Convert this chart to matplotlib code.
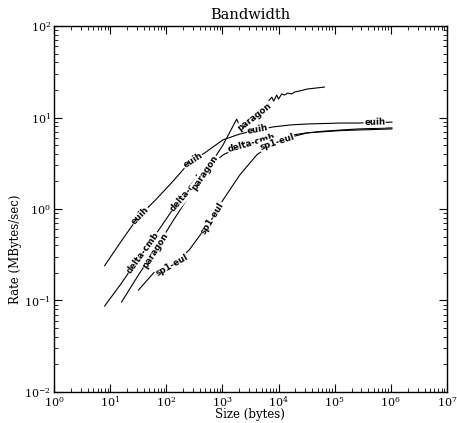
import numpy as np
import matplotlib
matplotlib.use('Agg')
import matplotlib.pyplot as plt
from matplotlib.ticker import LogLocator, NullFormatter

plt.rcParams['font.family'] = 'DejaVu Serif'
plt.rcParams['mathtext.fontset'] = 'dejavuserif'

# message size (bytes) vs rate (MBytes/sec)
euih_x = [8, 16, 32, 64, 128, 256, 512, 1024, 2048, 4096, 8192, 16384,
          32768, 65536, 131072, 262144, 524288, 1048576]
euih_y = [0.24, 0.45, 0.82, 1.25, 1.97, 3.2, 4.2, 5.7, 6.6, 7.3, 7.9, 8.3,
          8.5, 8.6, 8.7, 8.7, 8.8, 8.9]

delta_x = [8, 16, 32, 64, 128, 256, 512, 1024, 2048, 4096, 8192, 16384,
           32768, 65536, 131072, 262144, 524288, 1048576]
delta_y = [0.087, 0.155, 0.29, 0.52, 0.97, 1.6, 2.67, 3.9, 4.8, 5.4, 6.0, 6.4,
           6.8, 7.0, 7.2, 7.3, 7.4, 7.5]

paragon_x = [16, 32, 64, 128, 256, 512, 1024, 1800, 2100, 4096, 6400, 7600,
             8200, 9300, 10000, 11400, 12900, 14600, 17200, 19400, 23800,
             32768, 65536]
paragon_y = [0.096, 0.19, 0.36, 0.72, 1.39, 2.6, 5.0, 9.6, 7.7, 10.6, 14.8,
             16.7, 15.1, 17.6, 15.9, 18.1, 17.6, 18.5, 18.1, 19.0, 19.5,
             20.5, 21.5]

sp1_x = [32, 64, 128, 256, 512, 1024, 2048, 4096, 8192, 16384, 32768,
         65536, 131072, 262144, 524288, 1048576]
sp1_y = [0.13, 0.21, 0.244, 0.356, 0.635, 1.25, 2.36, 3.9, 5.3, 6.1, 6.8,
         7.1, 7.3, 7.5, 7.6, 7.7]

curves = [
    ('euih', euih_x, euih_y, [34, 297, 4270, 515000]),
    ('delta-cmb', delta_x, delta_y, [38, 242, 3340]),
    ('paragon', paragon_x, paragon_y, [63, 486, 3770]),
    ('sp1-eul', sp1_x, sp1_y, [126, 648, 9290]),
]

fig = plt.figure(figsize=(4.57, 4.23), dpi=100)
ax = fig.add_axes([0.118, 0.0733, 0.860, 0.8652])
ax.set_xscale('log')
ax.set_yscale('log')
ax.set_xlim(1, 1e7)
ax.set_ylim(1e-2, 1e2)


def inline_label(ax, xs, ys, xpos, text):
    lx, ly = np.log10(xs), np.log10(ys)
    yp = 10 ** np.interp(np.log10(xpos), lx, ly)
    d = 1.08
    p0 = ax.transData.transform((xpos / d, 10 ** np.interp(np.log10(xpos / d), lx, ly)))
    p1 = ax.transData.transform((xpos * d, 10 ** np.interp(np.log10(xpos * d), lx, ly)))
    ang = np.degrees(np.arctan2(p1[1] - p0[1], p1[0] - p0[0]))
    ax.text(xpos, yp, text, rotation=ang, rotation_mode='anchor',
            ha='center', va='center', fontsize=6.2, fontweight='bold',
            family='DejaVu Sans',
            bbox=dict(fc='white', ec='none', pad=0.4), zorder=3)


for name, xs, ys, where in curves:
    ax.plot(xs, ys, color='black', lw=0.8, zorder=2)
    for w in where:
        inline_label(ax, xs, ys, w, name)

ax.tick_params(which='both', direction='in', top=True, right=True,
               labelsize=8, pad=2)
ax.tick_params(which='major', length=6, width=0.8)
ax.tick_params(which='minor', length=3, width=0.6)
ax.xaxis.set_major_locator(LogLocator(base=10, numticks=10))
ax.xaxis.set_minor_locator(LogLocator(base=10, subs=np.arange(2, 10), numticks=20))
ax.yaxis.set_minor_locator(LogLocator(base=10, subs=np.arange(2, 10), numticks=20))
ax.xaxis.set_minor_formatter(NullFormatter())
ax.yaxis.set_minor_formatter(NullFormatter())
for s in ax.spines.values():
    s.set_linewidth(1.0)

ax.set_title('Bandwidth', fontsize=10.5, pad=5)
ax.set_xlabel('Size (bytes)', fontsize=8.5, labelpad=-1)
ax.set_ylabel('Rate (MBytes/sec)', fontsize=8.5)
ax.yaxis.set_label_coords(-0.08, 0.39)

fig.savefig('out.png', dpi=100)
